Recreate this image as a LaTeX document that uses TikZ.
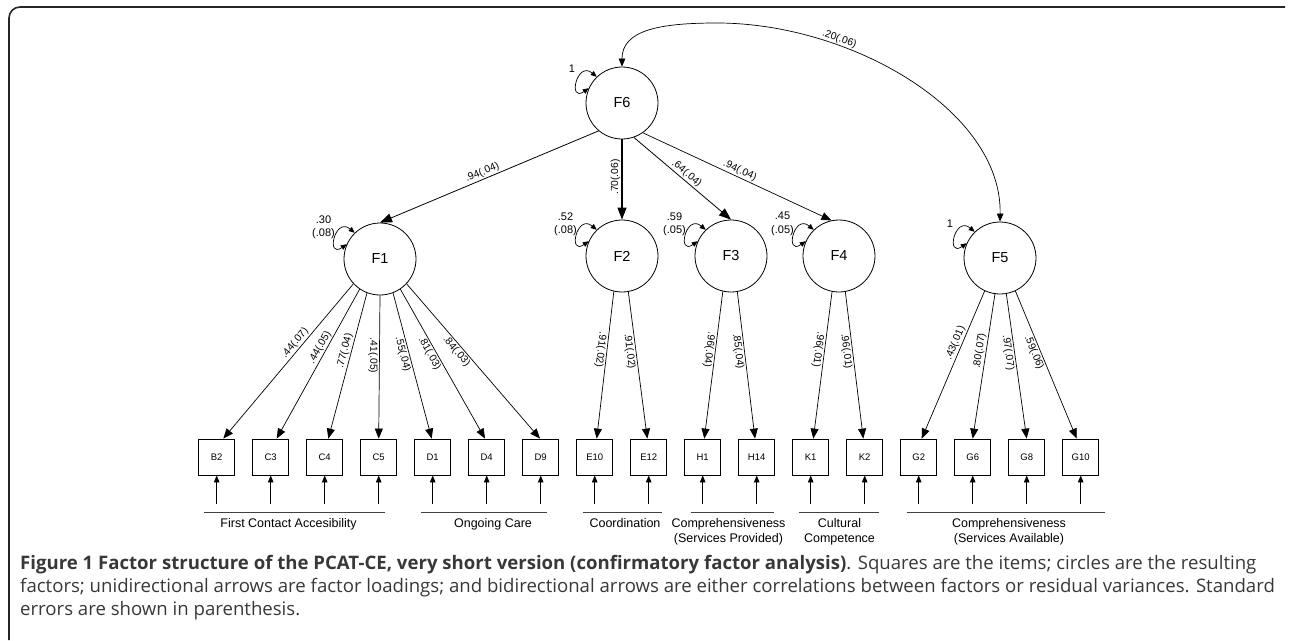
\documentclass[tikz,border=0pt]{standalone}
\usepackage{fontspec}
\setmainfont{Liberation Sans}
\newfontfamily\capfont{Open Sans}
\usetikzlibrary{arrows.meta,calc}
\newcommand\vloop[1]{\draw[loopar] (#1.134) .. controls +(140:26) and +(215:26) .. (#1.156);}
\begin{document}
\begin{tikzpicture}[x=1pt,y=1pt,
  factor/.style={circle,draw=black,line width=0.8pt,minimum size=72pt,inner sep=0pt,font=\fontsize{14.5}{16}\selectfont},
  itembox/.style={rectangle,draw=black,line width=0.8pt,minimum size=36pt,inner sep=0pt,font=\fontsize{9.5}{11}\selectfont},
  load/.style={line width=0.7pt,-{Triangle[length=10pt,width=8pt]}},
  bigload/.style={line width=0.8pt,-{Triangle[length=12pt,width=9pt]}},
  errarr/.style={line width=0.7pt,-{Triangle[length=7pt,width=5.5pt]}},
  loopar/.style={line width=0.7pt,{Triangle[length=6pt,width=5pt]}-{Triangle[length=6pt,width=5pt]}},
  curv/.style={line width=0.7pt,{Triangle[length=8pt,width=6.5pt]}-{Triangle[length=8pt,width=6.5pt]}},
  elab/.style={font=\fontsize{10.3}{12}\selectfont,inner sep=1.3pt},
  vlab/.style={font=\fontsize{11}{13.4}\selectfont,align=center,inner sep=0pt},
  grp/.style={line width=1pt,draw=black!75},
  grplab/.style={font=\fontsize{12.5}{15}\selectfont,align=center,inner sep=0pt,anchor=north},
  captext/.style={font=\capfont\fontsize{18.6}{22}\selectfont,text=black!78,anchor=base west,inner sep=0pt}
]
\useasboundingbox (0,0) rectangle (1290,-640);
% frame
\draw[line width=1.6pt,black!85] (9,-640) -- (9,-18) arc[start angle=180,end angle=90,radius=11] -- (1285,-7);

% factors
\node[factor] (F6) at (622,-103) {F6};
\node[factor] (F1) at (380,-259) {F1};
\node[factor] (F2) at (622,-256) {F2};
\node[factor] (F3) at (731,-256) {F3};
\node[factor] (F4) at (839,-256) {F4};
\node[factor] (F5) at (1000,-258) {F5};

% items with error arrows
\foreach \n [count=\i from 0] in {B2,C3,C4,C5,D1,D4,D9,E10,E12,H1,H14,K1,K2,G2,G6,G8,G10}{
  \node[itembox] (\n) at ({216.7+54*\i},-457) {\n};
  \coordinate (e\n) at ({216.7+54*\i},-504);
  \draw[errarr] (e\n) -- (\n.south);
}

% second-order loadings
\draw[bigload] (F6.230) -- (F1.north) node[elab,sloped,above,pos=0.52] {.94(.04)};
\draw[bigload,line width=1.1pt] (F6.south) -- (F2.north) node[elab,pos=0.47,rotate=90,anchor=south] {.70(.06)};
\draw[bigload] (F6.289) -- (F3.north) node[elab,sloped,above,pos=0.5] {.64(.04)};
\draw[load] (F6.305) -- (F4.102) node[elab,sloped,above,pos=0.5] {.94(.04)};

% correlation F6 - F5
\draw[curv] (F6.north) .. controls (622,-30) and (660,-23) .. (717,-23)
  .. controls (850,-23) and (1002,-110) .. (F5.north) node[elab,sloped,above,pos=0.3] {.20(.06)};

% F1 loadings
\draw[load] (F1.223) -- ($(B2.north)+(6.6,0)$) node[elab,sloped,above,pos=0.41] {.44(.07)};
\draw[load] (F1.236) -- ($(C3.north)+(6,0)$) node[elab,sloped,above,pos=0.41] {.44(.05)};
\draw[load] (F1.249) -- ($(C4.north)+(3.6,0)$) node[elab,sloped,above,pos=0.41] {.77(.04)};
\draw[load] (F1.270) -- (C5.north) node[elab,pos=0.42,rotate=-90,anchor=north] {.41(.05)};
\draw[load] (F1.291) -- ($(D1.north)+(-1,0)$) node[elab,sloped,below,pos=0.41] {.55(.04)};
\draw[load] (F1.304) -- ($(D4.north)+(-1.7,0)$) node[elab,sloped,below,pos=0.41] {.81(.03)};
\draw[load] (F1.317) -- ($(D9.north)+(-0.7,0)$) node[elab,sloped,below,pos=0.41] {.84(.03)};

% F2, F3, F4 loadings
\draw[load] (F2.257) -- ($(E10.north)+(2,0)$) node[elab,pos=0.4,rotate=-96.6,anchor=north] {.91(.02)};
\draw[load] (F2.280) -- ($(E12.north)+(-1.4,0)$) node[elab,sloped,below,pos=0.4] {.91(.02)};
\draw[load] (F3.257) -- ($(H1.north)+(1.6,0)$) node[elab,pos=0.4,rotate=-97.2,anchor=north] {.96(.04)};
\draw[load] (F3.280) -- ($(H14.north)+(-1.7,0)$) node[elab,sloped,below,pos=0.4] {.85(.04)};
\draw[load] (F4.259) -- ($(K1.north)+(2.6,0)$) node[elab,pos=0.4,rotate=-97.3,anchor=north] {.96(.01)};
\draw[load] (F4.280) -- ($(K2.north)+(-1.4,0)$) node[elab,sloped,below,pos=0.4] {.96(.01)};

% F5 loadings
\draw[load] (F5.245) -- ($(G2.north)+(3,0)$) node[elab,sloped,above,pos=0.37] {.43(.01)};
\draw[load] (F5.262) -- (G6.north) node[elab,sloped,above,pos=0.4] {.80(.07)};
\draw[load] (F5.280) -- (G8.north) node[elab,sloped,below,pos=0.4] {.97(.07)};
\draw[load] (F5.295) -- ($(G10.north)+(-4,0)$) node[elab,sloped,below,pos=0.4] {.59(.06)};

% residual variances
\vloop{F6}\vloop{F1}\vloop{F2}\vloop{F3}\vloop{F4}\vloop{F5}
\node[vlab] (v6) at ($(F6)+(-50,34)$) {1};
\node[vlab] (v5) at ($(F5)+(-50,34)$) {1};
\node[vlab] (v1) at ($(F1)+(-56.5,32)$) {.30\\(.08)};
\node[vlab] (v2) at ($(F2)+(-56.5,32)$) {.52\\(.08)};
\node[vlab] (v3) at ($(F3)+(-56.5,32)$) {.59\\(.05)};
\node[vlab] (v4) at ($(F4)+(-56.5,32)$) {.45\\(.05)};

% groups
\draw[grp] (204,-512) -- (385.4,-512);
\draw[grp] (421,-512) -- (547,-512);
\draw[grp] (583,-512) -- (662,-512);
\draw[grp] (690.7,-512) -- (774.3,-512);
\draw[grp] (799,-512) -- (878.6,-512);
\draw[grp] (907,-512) -- (1105,-512);
\node[grplab] (g1) at (288.5,-518) {First Contact Accesibility};
\node[grplab] (g2) at (493,-518) {Ongoing Care};
\node[grplab] (g3) at (625,-518) {Coordination};
\node[grplab] (g4) at (728.5,-518) {Comprehensiveness\\(Services Provided)};
\node[grplab] (g5) at (839.5,-518) {Cultural\\Competence};
\node[grplab] (g6) at (1009,-518) {Comprehensiveness\\(Services Available)};

% caption
\node[captext] (c1) at (20,-569) {\textbf{Figure 1 Factor structure of the PCAT-CE, very short version (confirmatory factor analysis)}. Squares are the items; circles are the resulting};
\node[captext] (c2) at (20,-592) {factors; unidirectional arrows are factor loadings; and bidirectional arrows are either correlations between factors or residual variances. Standard};
\node[captext] (c3) at (20,-615) {errors are shown in parenthesis.};
\end{tikzpicture}
\end{document}
